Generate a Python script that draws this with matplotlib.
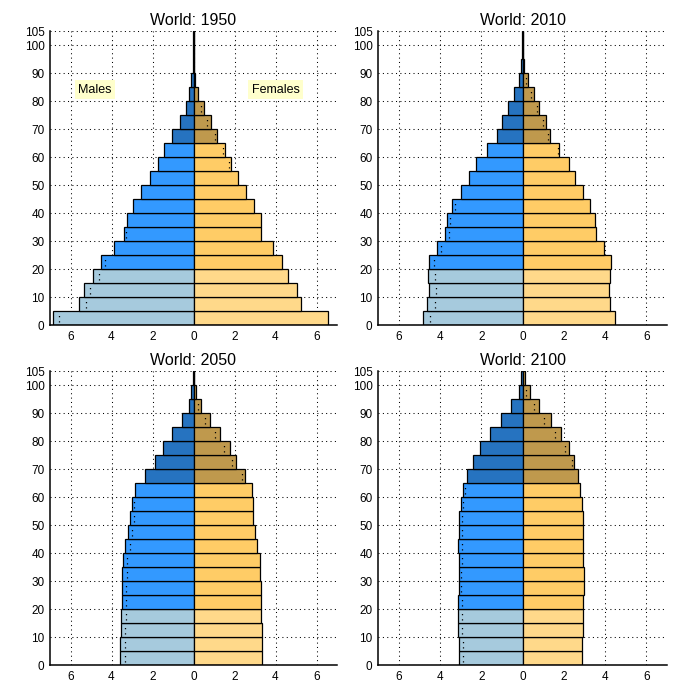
import matplotlib
matplotlib.use("Agg")
import matplotlib.pyplot as plt
import numpy as np

plt.rcParams['font.family'] = ['Liberation Sans', 'DejaVu Sans']

# ---- data (percent of total population, by 5-year age group) ----
age_starts = [0, 5, 10, 15, 20, 25, 30, 35, 40, 45, 50, 55, 60, 65, 70, 75, 80, 85, 90, 95, 100]
years = ["1950", "2010", "2050", "2100"]

males_1950 = [6.85, 5.58, 5.33, 4.88, 4.50, 3.86, 3.38, 3.23, 2.93, 2.54, 2.10, 1.71, 1.42, 1.03, 0.68, 0.39, 0.20, 0.10, 0.04, 0.02, 0.01]
females_1950 = [6.57, 5.25, 5.05, 4.60, 4.32, 3.86, 3.28, 3.28, 2.93, 2.54, 2.15, 1.81, 1.52, 1.17, 0.83, 0.49, 0.20, 0.05, 0.03, 0.02, 0.01]

males_2010 = [4.83, 4.63, 4.54, 4.59, 4.54, 4.15, 3.76, 3.66, 3.41, 2.98, 2.59, 2.24, 1.71, 1.22, 0.98, 0.68, 0.39, 0.18, 0.05, 0.01, 0.005]
females_2010 = [4.46, 4.24, 4.20, 4.24, 4.31, 3.97, 3.58, 3.53, 3.28, 2.94, 2.55, 2.26, 1.77, 1.33, 1.14, 0.80, 0.54, 0.26, 0.08, 0.02, 0.005]

males_2050 = [3.57, 3.57, 3.52, 3.52, 3.47, 3.47, 3.47, 3.42, 3.33, 3.18, 3.08, 2.98, 2.84, 2.35, 1.86, 1.47, 1.03, 0.54, 0.24, 0.10, 0.04]
females_2050 = [3.33, 3.33, 3.33, 3.28, 3.28, 3.28, 3.23, 3.23, 3.08, 2.98, 2.89, 2.89, 2.84, 2.49, 2.05, 1.76, 1.27, 0.80, 0.36, 0.11, 0.04]

males_2100 = [3.07, 3.07, 3.12, 3.12, 3.12, 3.07, 3.07, 3.07, 3.12, 3.07, 3.07, 2.98, 2.88, 2.68, 2.39, 2.05, 1.56, 1.02, 0.54, 0.18, 0.07]
females_2100 = [2.88, 2.88, 2.93, 2.93, 2.93, 2.98, 2.98, 2.93, 2.93, 2.93, 2.93, 2.88, 2.78, 2.68, 2.49, 2.24, 1.85, 1.37, 0.78, 0.36, 0.10]

male_data = [males_1950, males_2010, males_2050, males_2100]
female_data = [females_1950, females_2010, females_2050, females_2100]

x_ticks = [-6, -4, -2, 0, 2, 4, 6]
x_tick_labels = ["6", "4", "2", "0", "2", "4", "6"]
y_ticks = [0, 10, 20, 30, 40, 50, 60, 70, 80, 90, 100, 105]
y_tick_labels = ["0", "10", "20", "30", "40", "50", "60", "70", "80", "90", "100", "105"]

# colours: young (0-19), working (20-64), old (65+)
male_colors = ["#A6CADD", "#3399FF", "#2673C0"]
female_colors = ["#FFD98A", "#FFCC66", "#BF994D"]


def group(a):
    return 0 if a < 20 else (1 if a < 65 else 2)


fig = plt.figure(figsize=(7, 7), dpi=100)
positions = [
    [50 / 700, 375 / 700, 287 / 700, 294 / 700],
    [378 / 700, 375 / 700, 289 / 700, 294 / 700],
    [50 / 700, 35 / 700, 287 / 700, 294 / 700],
    [378 / 700, 35 / 700, 289 / 700, 294 / 700],
]

for i, yr in enumerate(years):
    ax = fig.add_axes(positions[i])
    m = np.array(male_data[i])
    f = np.array(female_data[i])
    ages = np.array(age_starts)
    mc = [male_colors[group(a)] for a in ages]
    fc = [female_colors[group(a)] for a in ages]

    ax.set_axisbelow(True)
    ax.grid(True, color="black", linestyle=(0, (1, 3.2)), linewidth=0.75)

    ax.barh(ages, -m, height=5, align="edge", color=mc, edgecolor="black", linewidth=0.9, zorder=2)
    ax.barh(ages, f, height=5, align="edge", color=fc, edgecolor="black", linewidth=0.9, zorder=2)

    # dotted marks showing the opposite sex's value inside each bar
    for a, mv, fv in zip(ages, m, f):
        if fv < mv - 0.05:
            ax.plot([-fv, -fv], [a + 1.0, a + 4.2], color="black", linestyle=(0, (1, 3.2)),
                    linewidth=0.9, zorder=3)
        if mv < fv - 0.05:
            ax.plot([mv, mv], [a + 1.0, a + 4.2], color="black", linestyle=(0, (1, 3.2)),
                    linewidth=0.9, zorder=3)

    ax.set_xlim(-7, 7)
    ax.set_ylim(0, 105)
    ax.set_xticks(x_ticks)
    ax.set_xticklabels(x_tick_labels)
    ax.set_yticks(y_ticks)
    ax.set_yticklabels(y_tick_labels)
    ax.tick_params(length=0, labelsize=8.5, pad=4)
    for s in ["top", "right"]:
        ax.spines[s].set_visible(False)
    for s in ["left", "bottom"]:
        ax.spines[s].set_linewidth(1.1)
        ax.spines[s].set_zorder(5)
    ax.set_title("World: " + yr, fontsize=11.5, pad=4)

    if i == 0:
        ax.text(-4.8, 84, "Males", ha="center", va="center", fontsize=9,
                bbox=dict(facecolor="#FFFFCC", edgecolor="none", pad=2.5), zorder=4)
        ax.text(4.0, 84, "Females", ha="center", va="center", fontsize=9,
                bbox=dict(facecolor="#FFFFCC", edgecolor="none", pad=2.5), zorder=4)

fig.savefig("out.png", dpi=100, facecolor="white")
